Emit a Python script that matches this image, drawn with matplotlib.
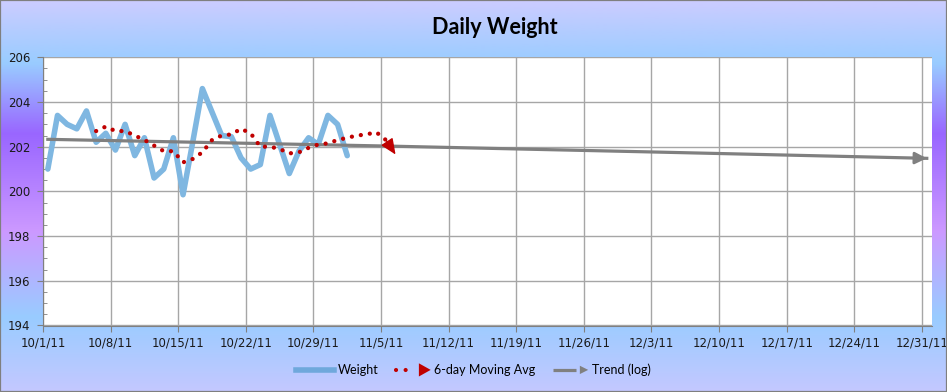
import numpy as np
import pandas as pd
import matplotlib
matplotlib.use("Agg")
import matplotlib.pyplot as plt
import matplotlib.dates as mdates
from matplotlib.colors import LinearSegmentedColormap
from matplotlib.legend_handler import HandlerBase
from matplotlib.lines import Line2D
from matplotlib.patches import Polygon, Rectangle

# --- data ---
weight_dates = pd.date_range("2011-10-01", periods=32, freq="D")
weight = [201.0, 203.4, 203.0, 202.8, 203.6, 202.2, 202.6, 201.85, 203.0, 201.6,
          202.4, 200.6, 201.0, 202.4, 199.85, 202.2, 204.6, 203.55, 202.5, 202.45,
          201.5, 201.0, 201.2, 203.4, 202.1, 200.8, 201.8, 202.4, 202.1, 203.4,
          203.0, 201.6]

ma_dates = pd.date_range("2011-10-06", periods=32, freq="D")
ma_6day = [202.7, 202.9, 202.7, 202.7, 202.5, 202.3, 202.05, 201.8, 201.8, 201.3,
           201.45, 201.75, 202.3, 202.5, 202.55, 202.8, 202.6, 202.0, 202.0, 201.9,
           201.7, 201.75, 201.95, 202.1, 202.15, 202.3, 202.4, 202.5, 202.55, 202.65,
           202.3, 201.65]

trend_dates = pd.to_datetime(["2011-10-01", "2011-11-05", "2011-12-02", "2011-12-31"])
trend_log = [202.33, 202.03, 201.77, 201.48]

tick_dates = pd.date_range("2011-10-01", "2011-12-31", freq="7D")
y_ticks = [194, 196, 198, 200, 202, 204, 206]

# colours
WEIGHT_C = "#7FB7E1"
MA_C = "#C00000"
TREND_C = "#808080"

half_day = pd.Timedelta(hours=12)  # points sit in the middle of each day slot


class ArrowHandler(HandlerBase):
    """Legend key: a line (solid or dotted) ending in a triangle head."""

    def __init__(self, color, lw, ls, head_len, head_w, **kw):
        super().__init__(**kw)
        self.color = color
        self.lw = lw
        self.ls = ls
        self.head_len = head_len
        self.head_w = head_w

    def create_artists(self, legend, orig_handle, xdescent, ydescent,
                       width, height, fontsize, trans):
        y = height / 2 - ydescent
        x0 = -xdescent
        tip = x0 + width
        base = tip - self.head_len
        line = Line2D([x0 + 2, base - 3], [y, y], color=self.color, lw=self.lw,
                      linestyle=self.ls, dash_capstyle="round",
                      solid_capstyle="butt", transform=trans)
        head = Polygon([[base, y - self.head_w / 2], [tip, y],
                        [base, y + self.head_w / 2]], closed=True,
                       facecolor=self.color, edgecolor="none", transform=trans)
        return [line, head]


fig = plt.figure(figsize=(9.47, 3.92), dpi=100)

# background gradient
bg = fig.add_axes([0, 0, 1, 1], zorder=-10)
bg.axis("off")
stops = [(0.0, "#CCCCFF"), (0.16, "#99CCFF"), (0.34, "#9966FF"),
         (0.59, "#CC99FF"), (0.81, "#99CCFF"), (1.0, "#C4C8FF")]
cmap = LinearSegmentedColormap.from_list("bg", stops)
bg.imshow(np.linspace(0, 1, 256).reshape(-1, 1), aspect="auto", cmap=cmap,
          extent=[0, 1, 0, 1])
bg.set_xlim(0, 1)
bg.set_ylim(0, 1)
fig.add_artist(Rectangle((0, 0), 1, 1, transform=fig.transFigure, fill=False,
                         ec="#7F7F7F", lw=1.6))

ax = fig.add_axes([43 / 947, 66.5 / 392, 888.6 / 947, 268.2 / 392])
ax.set_facecolor("white")

ax.plot(weight_dates + half_day, weight, color=WEIGHT_C, lw=4,
        solid_joinstyle="round", solid_capstyle="round", zorder=3)

ax.plot(trend_dates + half_day, trend_log, color=TREND_C, lw=2.3, zorder=4)
tx = mdates.date2num(trend_dates + half_day)
ax.annotate("", xy=(tx[-1], trend_log[-1]),
            xytext=(tx[-1] - 1.0, trend_log[-1] + 0.009),
            arrowprops=dict(arrowstyle="-|>,head_length=0.7,head_width=0.35",
                            color=TREND_C, lw=2, shrinkA=0, shrinkB=0,
                            mutation_scale=10),
            annotation_clip=False, zorder=4)

# dotted moving average; the final segment is drawn as the arrow head
mx = mdates.date2num(ma_dates + half_day)
ax.plot(mx[:-1], ma_6day[:-1], color=MA_C, lw=3.1,
        linestyle=(0, (0.01, 2.1)), dash_capstyle="round", zorder=5)
ax.annotate("", xy=(mx[-1], ma_6day[-1]), xytext=(mx[-2], ma_6day[-2]),
            arrowprops=dict(arrowstyle="-|>,head_length=0.96,head_width=0.42",
                            color=MA_C, lw=1, shrinkA=0, shrinkB=0,
                            mutation_scale=10),
            zorder=6)

# axes
ax.set_xlim(pd.Timestamp("2011-10-01"), pd.Timestamp("2012-01-01"))
ax.set_ylim(194, 206)
ax.set_xticks(tick_dates)
ax.set_xticklabels([f"{d.month}/{d.day}/{d.year % 100}" for d in tick_dates])
ax.set_yticks(y_ticks)
ax.set_yticks(np.arange(194, 206.01, 0.5), minor=True)
ax.grid(True, which="major", color="#A6A6A6", lw=1)
ax.set_axisbelow(True)
for side in ("top", "right"):
    ax.spines[side].set_visible(False)
for side in ("left", "bottom"):
    ax.spines[side].set_color("#808080")
ax.tick_params(axis="both", which="major", direction="out", length=4,
               color="#808080", labelsize=8.5, labelcolor="#1A1A1A")
ax.tick_params(axis="y", which="major", pad=5)
ax.tick_params(axis="x", which="major", pad=4)
ax.tick_params(axis="y", which="minor", direction="in", length=3,
               color="#808080")

fig.text(495 / 947, 1 - 27 / 392, "Daily Weight", ha="center", va="center",
         fontsize=15.5, fontweight="bold", family="Lato", color="black")

# legend
h_weight = Line2D([0], [0], color="#6FA8DC", lw=4)
h_ma = Line2D([0], [0], color=MA_C)
h_trend = Line2D([0], [0], color=TREND_C)
fig.legend([h_weight, h_ma, h_trend], ["Weight", "6-day Moving Avg", "Trend (log)"],
           handler_map={
               h_ma: ArrowHandler(MA_C, 3.0, (0, (0.01, 2.3)), 8.5, 9.5),
               h_trend: ArrowHandler(TREND_C, 2.3, "-", 6, 6),
           },
           loc="center", bbox_to_anchor=(0.5, 1 - 370 / 392), ncol=3,
           frameon=False, handlelength=3.0, handletextpad=0.3,
           columnspacing=1.2, prop={"family": "Lato", "size": 9})

fig.savefig("out.png", dpi=100)
